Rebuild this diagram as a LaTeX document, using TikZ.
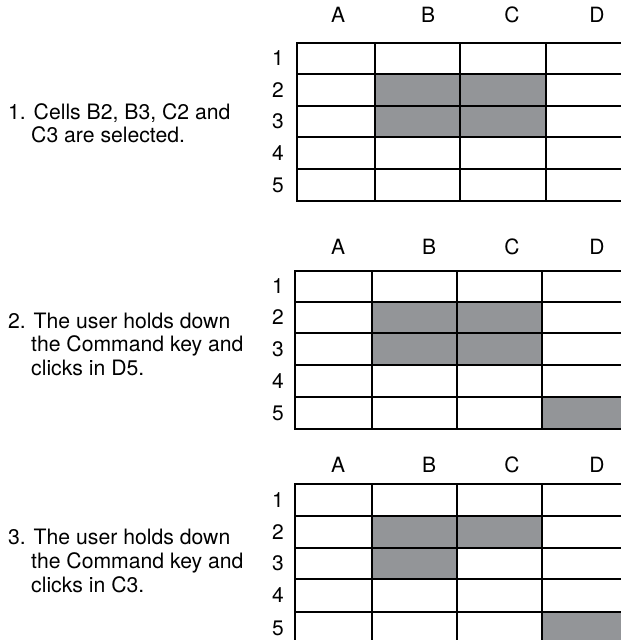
\documentclass[tikz,border=0pt]{standalone}
\usepackage{fontspec}
\setmainfont{TeX Gyre Heros}
\definecolor{selgray}{HTML}{939598}
\begin{document}
\begin{tikzpicture}[x=1pt,y=-1pt,
  gridline/.style={line width=2.8pt,line cap=rect},
  sel/.style={fill=selgray},
  lbl/.style={inner sep=0pt,anchor=center,font=\fontsize{21}{24}\selectfont},
  txt/.style={inner sep=0pt,anchor=base west,font=\fontsize{21.2}{24}\selectfont}]
\useasboundingbox (0,0) rectangle (621,640);
\clip (0,0) rectangle (621,640);
\fill[white] (0,0) rectangle (621,640);

% ---------- grid 1 ----------
\fill[sel] (375,74) rectangle (546,137);
\foreach \y in {43,74,106,137,169,201} \draw[gridline] (297,\y) -- (650,\y);
\foreach \x in {297,375,460,546} \draw[gridline] (\x,43) -- (\x,201);
\node[lbl] (g1A) at (338,15) {A};
\node[lbl] (g1B) at (428,15) {B};
\node[lbl] (g1C) at (512,15) {C};
\node[lbl] (g1D) at (597,15) {D};
\foreach \r/\y in {1/58.5,2/90,3/121.5,4/153,5/185}
  \node[lbl] (g1r\r) at (278,\y) {\r};
\node[txt] (t1a) at (8,119) {1. Cells B2, B3, C2 and};
\node[txt] (t1b) at (31,142) {C3 are selected.};

% ---------- grid 2 ----------
\fill[sel] (372,302) rectangle (542,365);
\fill[sel] (542,397) rectangle (650,429);
\foreach \y in {271,302,333,365,397,429} \draw[gridline] (295,\y) -- (650,\y);
\foreach \x in {295,372,457,542} \draw[gridline] (\x,271) -- (\x,429);
\node[lbl] (g2A) at (338,247) {A};
\node[lbl] (g2B) at (429,247) {B};
\node[lbl] (g2C) at (512,247) {C};
\node[lbl] (g2D) at (597,247) {D};
\foreach \r/\y in {1/286.5,2/317.5,3/349,4/381,5/413}
  \node[lbl] (g2r\r) at (278,\y) {\r};
\node[txt] (t2a) at (8,328) {2. The user holds down};
\node[txt] (t2b) at (31,351.5) {the Command key and};
\node[txt] (t2c) at (31,375) {clicks in D5.};

% ---------- grid 3 ----------
\fill[sel] (372,516) rectangle (542,548);
\fill[sel] (372,548) rectangle (457,579);
\fill[sel] (542,612) rectangle (650,644);
\foreach \y in {484,516,548,579,612,644} \draw[gridline] (295,\y) -- (650,\y);
\foreach \x in {295,372,457,542} \draw[gridline] (\x,484) -- (\x,644);
\node[lbl] (g3A) at (338,465) {A};
\node[lbl] (g3B) at (429,465) {B};
\node[lbl] (g3C) at (512,465) {C};
\node[lbl] (g3D) at (597,465) {D};
\foreach \r/\y in {1/500,2/532,3/563.5,4/595.5,5/628}
  \node[lbl] (g3r\r) at (278,\y) {\r};
\node[txt] (t3a) at (8,544) {3. The user holds down};
\node[txt] (t3b) at (31,568) {the Command key and};
\node[txt] (t3c) at (31,592) {clicks in C3.};
\end{tikzpicture}
\end{document}
